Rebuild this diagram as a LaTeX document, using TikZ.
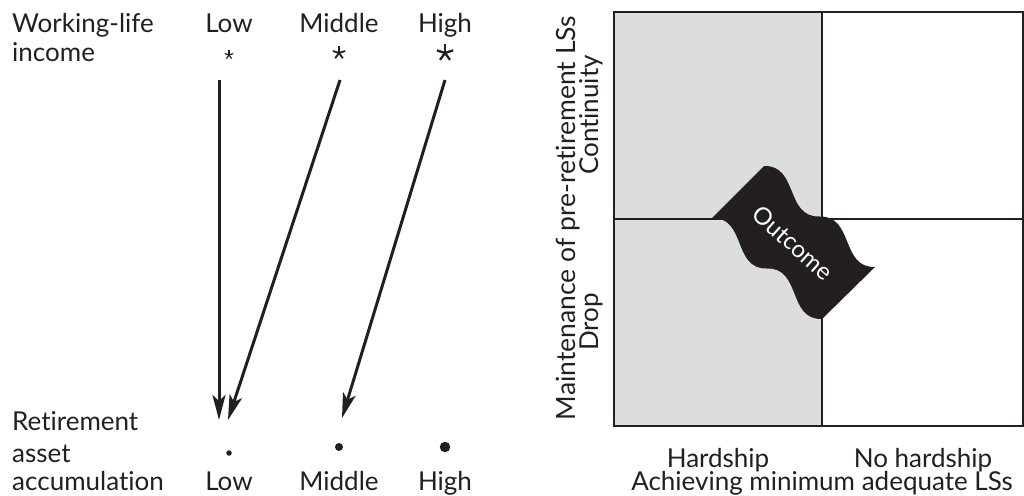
\documentclass[tikz,border=0pt]{standalone}
\usepackage{fontspec}
\setmainfont{Lato}[Ligatures={NoCommon,NoRequired,NoContextual}]
\usetikzlibrary{arrows.meta}
\definecolor{ink}{HTML}{231F20}
\definecolor{panegray}{HTML}{DCDDDE}

\begin{document}
\begin{tikzpicture}[x=1pt,y=-1pt,
    lbl/.style={inner sep=0pt,text=ink,font=\fontsize{26}{30}\selectfont},
    flow/.style={line width=3pt,draw=ink,-{Stealth[length=25pt,width=13pt,inset=6pt]}},
    grid/.style={line width=2pt,draw=ink},
    dot/.style={circle,fill=ink,inner sep=0pt}]
  \useasboundingbox (0,0) rectangle (1024,495);
  % left: income -> assets
  \node[lbl,anchor=base west] (wl) at (12,33) {Working-life};
  \node[lbl,anchor=base west] (inc) at (12,62) {income};
  \node[lbl,anchor=base] (inlow) at (229,33) {Low};
  \node[lbl,anchor=base] (inmid) at (339,33) {Middle};
  \node[lbl,anchor=base] (inhigh) at (445,33) {High};
  \coordinate (starlow) at (229,55);
  \coordinate (starmid) at (339,53);
  \coordinate (starhigh) at (445,53);
  \foreach \a in {-90,-18,54,126,198} {
    \draw[ink,line width=1.2pt] (starlow) -- +(\a:4.5);
    \draw[ink,line width=1.8pt] (starmid) -- +(\a:6.5);
    \draw[ink,line width=2.3pt] (starhigh) -- +(\a:8.5);
  }
  \node[dot,minimum size=5.5pt] (dotlow) at (229,453) {};
  \node[dot,minimum size=8pt] (dotmid) at (339,447) {};
  \node[dot,minimum size=10.5pt] (dothigh) at (445,447) {};
  \coordinate (lowtop) at (219,80);
  \coordinate (lowend) at (219,420);
  \coordinate (midtop) at (340,80);
  \coordinate (midend) at (228,420);
  \coordinate (hightop) at (445,80);
  \coordinate (highend) at (342,418);
  \draw[flow] (lowtop) -- (lowend);
  \draw[flow] (midtop) -- (midend);
  \draw[flow] (hightop) -- (highend);
  \node[lbl,anchor=base west] (ret) at (12,430) {Retirement};
  \node[lbl,anchor=base west] (ast) at (12,462) {asset};
  \node[lbl,anchor=base west] (acc) at (12,490) {accumulation};
  \node[lbl,anchor=base] (outlow) at (229,490) {Low};
  \node[lbl,anchor=base] (outmid) at (339,490) {Middle};
  \node[lbl,anchor=base] (outhigh) at (445,490) {High};
  % right: outcome grid
  \fill[panegray] (614,12) rectangle (822,426);
  \draw[grid] (614,12) rectangle (1023,426);
  \draw[grid] (822,12) -- (822,426);
  \draw[grid] (614,219) -- (1023,219);
  \fill[ink] (764,166) .. controls +(34.6,-1) and +(-34.6,1) .. (819.5,216.5)
    .. controls +(34.6,-1) and +(-34.6,1) .. (875,267) -- (822,319)
    .. controls +(-34.6,1) and +(34.6,-1) .. (767,268.5)
    .. controls +(-34.6,1) and +(34.6,-1) .. (712,218) -- cycle;
  \node[lbl,text=white,rotate=-42,font=\fontsize{24}{24}\selectfont] (outcome) at (793,243) {Outcome};
  \node[lbl,anchor=base] (hard) at (718,467) {Hardship};
  \node[lbl,anchor=base] (nohard) at (923,467) {No hardship};
  \node[lbl,anchor=base] (xaxis) at (822,490) {Achieving minimum adequate LSs};
  \node[lbl,anchor=base,rotate=90,font=\fontsize{26.5}{30}\selectfont] (yaxis) at (575,218) {Maintenance of pre-retirement LSs};
  \node[lbl,anchor=base,rotate=90] (cont) at (598,115) {Continuity};
  \node[lbl,anchor=base,rotate=90] (drop) at (598,322) {Drop};
\end{tikzpicture}
\end{document}
